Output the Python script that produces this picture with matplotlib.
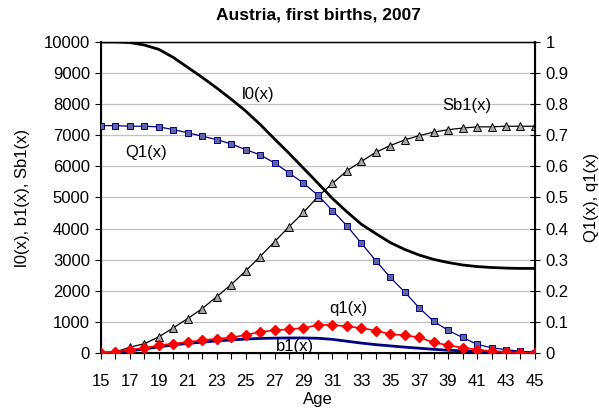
import numpy as np
import matplotlib.pyplot as plt

plt.rcParams['font.family'] = ['Liberation Sans', 'DejaVu Sans']

ages = list(range(15, 46))

# left axis series (per 10000 women)
l0 = [10000, 10000, 9980, 9900, 9760, 9500, 9180, 8860, 8520, 8160,
      7780, 7350, 6880, 6420, 5940, 5460, 4970, 4540, 4140, 3840,
      3550, 3330, 3150, 3010, 2910, 2830, 2780, 2750, 2730, 2720, 2720]
b1 = [0, 20, 70, 130, 200, 260, 310, 350, 390, 420,
      450, 470, 480, 485, 485, 475, 440, 380, 320, 270,
      230, 190, 155, 120, 90, 70, 50, 35, 25, 15, 10]
Sb1 = [0, 30, 190, 300, 520, 810, 1110, 1430, 1810, 2200,
       2640, 3100, 3580, 4060, 4520, 5030, 5450, 5860, 6160, 6450,
       6670, 6850, 6990, 7100, 7180, 7230, 7270, 7270, 7290, 7290, 7290]

# right axis series (proportions)
Q1 = [0.731, 0.731, 0.729, 0.729, 0.727, 0.718, 0.708, 0.697, 0.686, 0.672,
      0.654, 0.637, 0.611, 0.579, 0.546, 0.507, 0.458, 0.409, 0.353, 0.297,
      0.243, 0.196, 0.145, 0.102, 0.073, 0.050, 0.028, 0.017, 0.011, 0.0055, 0.0015]
q1 = [0.0, 0.003, 0.011, 0.016, 0.025, 0.030, 0.0355, 0.041, 0.046, 0.050,
      0.058, 0.068, 0.073, 0.0765, 0.0805, 0.090, 0.0905, 0.0855, 0.0805, 0.072,
      0.061, 0.057, 0.0505, 0.034, 0.025, 0.0175, 0.011, 0.006, 0.003, 0.001, 0.0]

fs = 12

fig = plt.figure(figsize=(5.99, 4.11), dpi=100)
ax = fig.add_axes([0.1686, 0.141, 0.7244, 0.757])
ax2 = ax.twinx()

ax.plot(ages, l0, color='black', linewidth=2, zorder=3)
ax.plot(ages, b1, color='#000080', linewidth=2, zorder=3)
ax.plot(ages, Sb1, color='black', linewidth=0.9, marker='^', markersize=5.7,
        markerfacecolor='#a6a6a6', markeredgecolor='black', markeredgewidth=0.7, zorder=3)
ax2.plot(ages, Q1, color='#000080', linewidth=0.9, marker='s', markersize=5,
         markerfacecolor='#5f63a8', markeredgecolor='#000080', markeredgewidth=0.7, zorder=3)
ax2.plot(ages, q1, color='red', linewidth=1.2, marker='D', markersize=4.7,
         markerfacecolor='red', markeredgecolor='red', zorder=3)

ax.set_xlim(15, 45)
ax.set_ylim(0, 10000)
ax2.set_ylim(0, 1)
ax.set_xticks(range(15, 46))
ax.set_xticklabels([str(a) if a % 2 == 1 else '' for a in ages])
ax.set_yticks(range(0, 10001, 1000))
ax2.set_yticks(np.arange(0, 1.01, 0.1))
ax2.set_yticklabels(['0', '0.1', '0.2', '0.3', '0.4', '0.5', '0.6', '0.7', '0.8', '0.9', '1'])

ax.grid(axis='y', color='#c0c0c0', linewidth=0.9)
ax.set_axisbelow(True)
ax.tick_params(axis='x', direction='out', length=4, labelsize=fs, pad=11)
ax.tick_params(axis='y', direction='out', length=4, labelsize=fs, pad=4)
ax2.tick_params(axis='y', direction='inout', length=7, labelsize=fs, pad=4)
for sp in list(ax.spines.values()) + list(ax2.spines.values()):
    sp.set_color('black')
ax.spines['left'].set_linewidth(1.5)
ax2.spines['right'].set_linewidth(1.5)
ax.spines['bottom'].set_linewidth(1.5)
ax.spines['top'].set_linewidth(1.0)

ax.set_xlabel('Age', fontsize=fs, labelpad=2)
ax.set_ylabel('l0(x), b1(x), Sb1(x)', fontsize=fs, labelpad=10)
ax2.set_ylabel('Q1(x), q1(x)', fontsize=fs, labelpad=11)
ax.set_title('Austria, first births, 2007', fontsize=12.5, fontweight='bold', pad=16)

ax.text(25.9, 8300, 'l0(x)', fontsize=fs, ha='center', va='center')
ax.text(18.1, 6430, 'Q1(x)', fontsize=fs, ha='center', va='center')
ax.text(40.3, 7950, 'Sb1(x)', fontsize=fs, ha='center', va='center')
ax.text(32.1, 1430, 'q1(x)', fontsize=fs, ha='center', va='center')
ax.text(28.4, 195, 'b1(x)', fontsize=fs, ha='center', va='center')

fig.savefig('out.png', dpi=100)
